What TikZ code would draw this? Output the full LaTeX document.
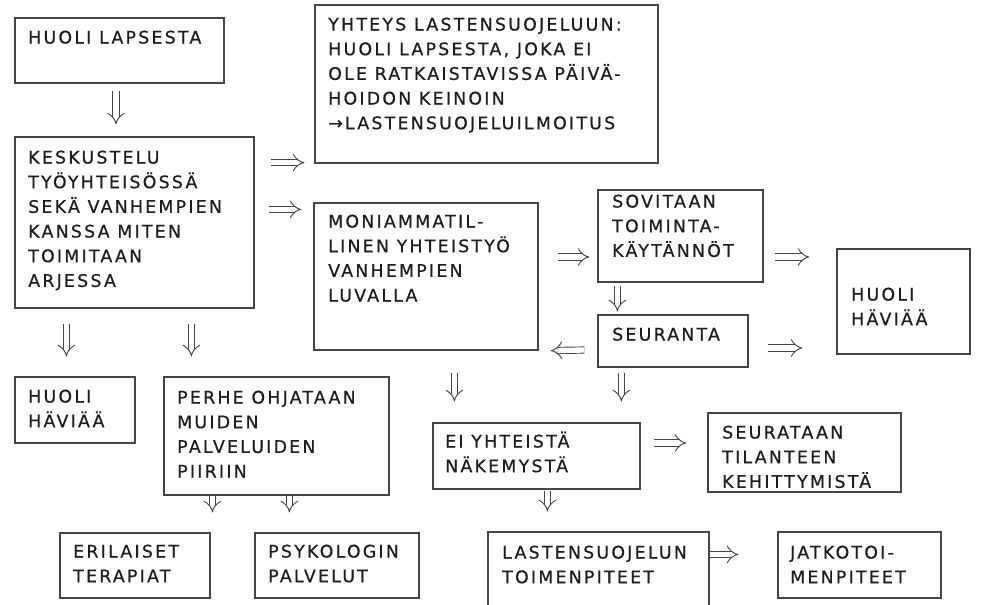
\documentclass[tikz,border=0pt]{standalone}
\usepackage{fontspec}
\setmainfont{DejaVu Sans}[LetterSpace=13, FakeBold=0.6]
\usetikzlibrary{arrows.meta,calc}
\definecolor{boxline}{RGB}{70,70,70}
\definecolor{boxtext}{RGB}{30,30,30}

\begin{document}
\begin{tikzpicture}[x=0.75pt,y=0.75pt,yscale=-1,xscale=1,
	box/.style={draw=boxline, line width=0.9pt, inner sep=0pt},
	txt/.style={anchor=north west, inner sep=0pt, align=left, text=boxtext, font=\fontsize{13}{18.5}\selectfont},
	dbl/.style={draw=boxline, double, double distance=4pt, line width=0.7pt, -{Implies[scale=2]}},
	dblwide/.style={dbl, -{Implies[scale length=1.5, scale width=2.6]}}]
	\useasboundingbox (0,0) rectangle (986,604);

	%Boxes
	\node[box, minimum width=156.75pt, minimum height=48.75pt] (huoli) at (119.5,50.5) {};
	\node[box, minimum width=179.25pt, minimum height=128.25pt] (kesk) at (134.5,222.5) {};
	\node[box, minimum width=257.25pt, minimum height=118.5pt] (yht) at (486.5,84) {};
	\node[box, minimum width=168pt, minimum height=110.25pt] (moni) at (426,276.5) {};
	\node[box, minimum width=123.75pt, minimum height=69pt] (sov) at (680.5,236) {};
	\node[box, minimum width=112.5pt, minimum height=39pt] (seur) at (673,341) {};
	\node[box, minimum width=99.75pt, minimum height=78.75pt] (havB) at (903.5,301.5) {};
	\node[box, minimum width=90pt, minimum height=49.5pt] (havA) at (75,410) {};
	\node[box, minimum width=168.75pt, minimum height=88.5pt] (perhe) at (276.5,436) {};
	\node[box, minimum width=112.5pt, minimum height=48.75pt] (eril) at (135,565.5) {};
	\node[box, minimum width=123pt, minimum height=48.75pt] (psyk) at (337,565.5) {};
	\node[box, minimum width=155.25pt, minimum height=49.5pt] (eiyht) at (536.5,456) {};
	\node[box, minimum width=144.75pt, minimum height=59.25pt] (seurt) at (804.5,452.5) {};
	\node[box, minimum width=165.75pt, minimum height=60pt] (lsj) at (598.5,572) {};
	\node[box, minimum width=122.25pt, minimum height=49.5pt] (jatko) at (859.5,565) {};

	% Text Node
	\node[txt] (huoliT) at (28,26) {\strut HUOLI LAPSESTA};
	% Text Node
	\node[txt] (keskT) at (28,146) {\strut KESKUSTELU\\TYÖYHTEISÖSSÄ\\SEKÄ VANHEMPIEN\\KANSSA MITEN\\TOIMITAAN\\ARJESSA};
	% Text Node
	\node[txt] (yhtT) at (328,13) {\strut YHTEYS LASTENSUOJELUUN:\\HUOLI LAPSESTA, JOKA EI\\OLE RATKAISTAVISSA PÄIVÄ-\\HOIDON KEINOIN\\→LASTENSUOJELUILMOITUS};
	% Text Node
	\node[txt] (moniT) at (328,210) {\strut MONIAMMATIL-\\LINEN YHTEISTYÖ\\VANHEMPIEN\\LUVALLA};
	% Text Node
	\node[txt] (sovT) at (612,190) {\strut SOVITAAN\\TOIMINTA-\\KÄYTÄNNÖT};
	% Text Node
	\node[txt] (seurT) at (612,323) {\strut SEURANTA};
	% Text Node
	\node[txt] (havBT) at (851,283) {\strut HUOLI\\HÄVIÄÄ};
	% Text Node
	\node[txt] (havAT) at (28,385) {\strut HUOLI\\HÄVIÄÄ};
	% Text Node
	\node[txt] (perheT) at (177,386) {\strut PERHE OHJATAAN\\MUIDEN\\PALVELUIDEN\\PIIRIIN};
	% Text Node
	\node[txt] (erilT) at (73,540) {\strut ERILAISET\\TERAPIAT};
	% Text Node
	\node[txt] (psykT) at (268,540) {\strut PSYKOLOGIN\\PALVELUT};
	% Text Node
	\node[txt] (eiyhtT) at (445,430) {\strut EI YHTEISTÄ\\NÄKEMYSTÄ};
	% Text Node
	\node[txt] (seurtT) at (722,421) {\strut SEURATAAN\\TILANTEEN\\KEHITTYMISTÄ};
	% Text Node
	\node[txt] (lsjT) at (502,541) {\strut LASTENSUOJELUN\\TOIMENPITEET};
	% Text Node
	\node[txt] (jatkoT) at (790,541) {\strut JATKOTOI-\\MENPITEET};

	%Double arrows
	\draw[dbl] ($(huoli.south)+(-3.5,7)$) -- ($(huoli.south |- kesk.north)+(-3.5,-12)$);
	\draw[dbl] ($(kesk.east |- yht.south)+(16,-1)$) -- ($(yht.south west)+(-10,-1)$);
	\draw[dbl] ($(kesk.east |- moni.north)+(14,7)$) -- ($(moni.north west)+(-12,7)$);
	\draw[dbl] ($(moni.east |- sov.west)+(19,21)$) -- ($(sov.west)+(-8,21)$);
	\draw[dbl] ($(sov.south west)+(20,3)$) -- ($(seur.north west)+(20,-3)$);
	\draw[dbl] ($(seur.west)+(-13,9)$) -- ($(moni.south east)+(12,0)$);
	\draw[dbl] ($(sov.east)+(11,21)$) -- ($(sov.east -| havB.west)+(-27,21)$);
	\draw[dbl] ($(seur.east)+(19,7)$) -- ($(seur.east -| havB.west)+(-34,7)$);
	\draw[dbl] ($(moni.south west)+(141,22)$) -- ($(moni.south west |- eiyht.north)+(141,-21)$);
	\draw[dbl] ($(seur.south west)+(24,5)$) -- ($(seur.south west |- eiyht.north)+(24,-21)$);
	\draw[dbl] ($(kesk.south west)+(52,15)$) -- ($(kesk.south west |- havA.north)+(52,-20)$);
	\draw[dbl] ($(kesk.south west)+(177,15)$) -- ($(kesk.south west |- perhe.north)+(177,-20)$);
	\draw[dblwide] ($(perhe.south west)+(49,0)$) -- ($(perhe.south west |- eril.north)+(49,-20)$);
	\draw[dblwide] ($(perhe.south west)+(126,0)$) -- ($(perhe.south west |- psyk.north)+(126,-20)$);
	\draw[dblwide] ($(eiyht.south west)+(115,1)$) -- ($(eiyht.south west |- lsj.north)+(115,-20)$);
	\draw[dbl] ($(eiyht.east)+(13,-13)$) -- ($(eiyht.east -| seurt.west)+(-21,-13)$);
	\draw[dbl] ($(lsj.north east)+(0,23)$) -- ($(jatko.north west)+(-39,23)$);

\end{tikzpicture}
\end{document}
